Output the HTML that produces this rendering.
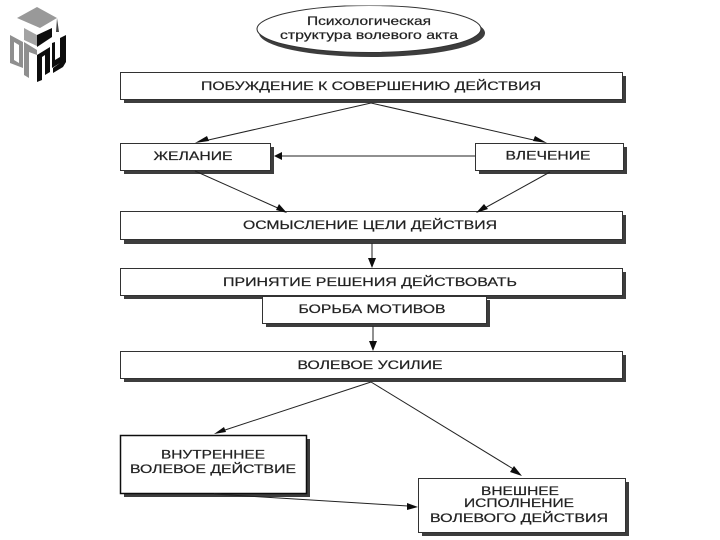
<!DOCTYPE html>
<html lang="ru">
<head>
<meta charset="utf-8">
<title>Психологическая структура волевого акта</title>
<style>
html,body{margin:0;padding:0;background:#fff;width:720px;height:540px;overflow:hidden}
svg{display:block}
text{font-family:"Liberation Sans","DejaVu Sans",sans-serif;font-size:11.5px;fill:#222;stroke:#222;stroke-width:.2;text-anchor:middle}
.b{fill:#fff;stroke:#333;stroke-width:1}
.s{fill:#3c3c3c}
.l{stroke:#222;stroke-width:1;fill:none}
.a{fill:#111}
</style>
</head>
<body>
<svg width="720" height="540" viewBox="0 0 720 540" xmlns="http://www.w3.org/2000/svg">
<defs><filter id="f" x="0" y="0" width="100%" height="100%"><feGaussianBlur stdDeviation="0.35"/></filter></defs>
<g filter="url(#f)">
<!-- logo -->
<polygon points="17,18 37,7 57,18 40,28" fill="#999"/>
<polygon points="24,28 37,35 37,46 24,40" fill="#a3a3a3"/>
<polygon points="37,35 52,28 52,37 37,47" fill="#111"/>
<polygon points="57,18 59,32 56,32" fill="#444"/>
<path fill="#8f8f8f" fill-rule="evenodd" d="M10,35L23,42V68L10,63ZM14,42V60L19,63V45Z"/>
<polygon points="24,42 37,50 37,55 29,52 29,78 24,75" fill="#8f8f8f"/>
<polygon points="37,55 50,47 50,72 45,75 45,55 42,57 42,80 37,82" fill="#111"/>
<polygon points="52,43 55,42 55,60 60,57 60,38 66,35 66,62 63,67 53,73 53,68 60,63 52,68" fill="#111"/>

<!-- ellipse -->
<ellipse cx="372" cy="33" rx="113" ry="24" fill="#3c3c3c"/>
<ellipse cx="369" cy="29" rx="112" ry="23.5" fill="#fff" stroke="#333"/>
<text x="369" y="25" textLength="124" lengthAdjust="spacingAndGlyphs">Психологическая</text>
<text x="369" y="39" textLength="178" lengthAdjust="spacingAndGlyphs">структура волевого акта</text>

<!-- top box -->
<rect class="s" x="124" y="76" width="502" height="27"/>
<rect class="b" x="120.500" y="72.500" width="502" height="27"/>
<text x="371" y="90" textLength="340" lengthAdjust="spacingAndGlyphs">ПОБУЖДЕНИЕ К СОВЕРШЕНИЮ ДЕЙСТВИЯ</text>

<!-- wish -->
<rect class="s" x="124" y="147" width="150" height="27"/>
<rect class="b" x="120.500" y="143.500" width="150" height="27"/>
<text x="193" y="160" textLength="79" lengthAdjust="spacingAndGlyphs">ЖЕЛАНИЕ</text>

<!-- attraction -->
<rect class="s" x="479" y="147" width="148" height="27"/>
<rect class="b" x="475.500" y="143.500" width="148" height="27"/>
<text x="548" y="159.500" textLength="85" lengthAdjust="spacingAndGlyphs">ВЛЕЧЕНИЕ</text>

<!-- comprehension -->
<rect class="s" x="124" y="215" width="502" height="29"/>
<rect class="b" x="120.500" y="211.500" width="502" height="28"/>
<text x="370" y="229" textLength="254" lengthAdjust="spacingAndGlyphs">ОСМЫСЛЕНИЕ ЦЕЛИ ДЕЙСТВИЯ</text>

<!-- decision -->
<rect class="s" x="124" y="272" width="502" height="27"/>
<rect class="b" x="120.500" y="268.500" width="502" height="27"/>
<text x="370" y="286" textLength="294" lengthAdjust="spacingAndGlyphs">ПРИНЯТИЕ РЕШЕНИЯ ДЕЙСТВОВАТЬ</text>

<!-- motives -->
<rect class="s" x="266" y="300" width="224" height="27"/>
<rect class="b" x="262.500" y="296.500" width="224" height="27"/>
<text x="372" y="313" textLength="147" lengthAdjust="spacingAndGlyphs">БОРЬБА МОТИВОВ</text>

<!-- effort -->
<rect class="s" x="124" y="355" width="502" height="27"/>
<rect class="b" x="120.500" y="351.500" width="502" height="27"/>
<text x="370" y="369" textLength="145" lengthAdjust="spacingAndGlyphs">ВОЛЕВОЕ УСИЛИЕ</text>

<!-- inner -->
<rect class="s" x="124" y="439" width="186" height="58"/>
<rect x="120.500" y="435.500" width="186" height="58" fill="#fff" stroke="#111" stroke-width="1.500"/>
<text x="213" y="458.500" textLength="104" lengthAdjust="spacingAndGlyphs">ВНУТРЕННЕЕ</text>
<text x="213" y="473" textLength="166" lengthAdjust="spacingAndGlyphs">ВОЛЕВОЕ ДЕЙСТВИЕ</text>

<!-- outer -->
<rect class="s" x="422" y="482" width="207" height="54"/>
<rect class="b" x="418.500" y="478.500" width="207" height="54"/>
<text x="520" y="495" textLength="78" lengthAdjust="spacingAndGlyphs">ВНЕШНЕЕ</text>
<text x="519" y="507" textLength="110" lengthAdjust="spacingAndGlyphs">ИСПОЛНЕНИЕ</text>
<text x="519" y="522" textLength="178" lengthAdjust="spacingAndGlyphs">ВОЛЕВОГО ДЕЙСТВИЯ</text>

<!-- connectors -->
<path class="l" d="M371 103L204 141"/>
<polygon class="a" points="195,143 207,136 209,141"/>
<path class="l" d="M371 103L538 141"/>
<polygon class="a" points="547,143 535,136 533,141"/>
<path class="l" d="M475 156H280"/>
<polygon class="a" points="274,156 282,152 282,160"/>
<path class="l" d="M195 171L280 209"/>
<polygon class="a" points="287,213 276,210 279,204"/>
<path class="l" d="M550 172L483 209"/>
<polygon class="a" points="476,213 484,204 488,209"/>
<path class="l" d="M372 243V260"/>
<polygon class="a" points="372,268 368,258 376,258"/>
<path class="l" d="M373 326V343"/>
<polygon class="a" points="373,351 369,341 377,341"/>
<path class="l" d="M371 382L222 431"/>
<polygon class="a" points="214,434 224,427 226,432"/>
<path class="l" d="M371 382L515 470"/>
<polygon class="a" points="522,476 510,472 514,466"/>
<path class="l" d="M214 494L408 506"/>
<polygon class="a" points="418,507 407,510 407,503"/>
</g>
</svg>
</body>
</html>
